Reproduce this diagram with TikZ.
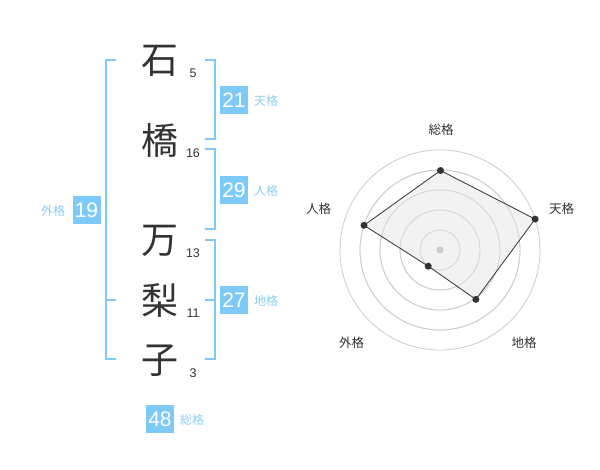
\documentclass[tikz,border=0pt]{standalone}
\usepackage{fontspec}
\setmainfont{Liberation Sans}
\newfontfamily\cjk{Noto Sans CJK JP}
\definecolor{ink}{HTML}{333333}
\definecolor{bbox}{HTML}{7DCAF8}
\definecolor{blab}{HTML}{8DCFF5}
\definecolor{bline}{HTML}{80C8F8}
\definecolor{ring}{HTML}{CCCCCC}
\definecolor{area}{HTML}{F0F0F0}
\begin{document}
\begin{tikzpicture}[x=1pt,y=-1pt,
  kanji/.style={inner sep=0pt,text=ink,font=\cjk\fontsize{37}{37}\selectfont},
  strokes/.style={inner sep=0pt,text=ink,font=\fontsize{12.5}{13}\selectfont},
  numbox/.style={fill=bbox,text=white,minimum width=28pt,minimum height=28pt,inner sep=0pt,font=\fontsize{21}{21}\selectfont},
  boxlab/.style={inner sep=0pt,text=blab,font=\cjk\fontsize{12}{12}\selectfont},
  brk/.style={draw=bline,line width=2pt},
  ringst/.style={draw=ring,line width=0.8pt},
  dot/.style={circle,fill=ink,inner sep=0pt,minimum size=7pt},
  axlab/.style={inner sep=0pt,text=ink,font=\cjk\fontsize{12.5}{13}\selectfont}]
\useasboundingbox (0,0) rectangle (600,470);
\fill[white] (0,0) rectangle (600,470);
% characters
\node[kanji] (c1) at (160,61) {石};
\node[kanji] (c2) at (160,140) {橋};
\node[kanji] (c3) at (160,241) {万};
\node[kanji] (c4) at (160,300) {梨};
\node[kanji] (c5) at (160,361) {子};
\node[strokes] (s1) at (193,73) {5};
\node[strokes] (s2) at (193,153) {16};
\node[strokes] (s3) at (193,253) {13};
\node[strokes] (s4) at (193,313) {11};
\node[strokes] (s5) at (193,373) {3};
% brackets
\draw[brk] (116,60) -- (105.5,60) -- (105.5,359.5) -- (116,359.5);
\draw[brk] (105.5,300) -- (116,300);
\draw[brk] (205,60) -- (214.5,60) -- (214.5,139.5) -- (205,139.5);
\draw[brk] (205,149.5) -- (214.5,149.5) -- (214.5,229.5) -- (205,229.5);
\draw[brk] (205,240) -- (214.5,240) -- (214.5,359.5) -- (205,359.5);
\draw[brk] (205,300) -- (214.5,300);
% boxes
\node[numbox] (ten) at (234,100) {21};
\node[boxlab] (tenl) at (266,101) {天格};
\node[numbox] (jin) at (234,190) {29};
\node[boxlab] (jinl) at (266,191) {人格};
\node[numbox] (chi) at (234,300) {27};
\node[boxlab] (chil) at (266,301) {地格};
\node[numbox] (gai) at (86.5,210) {19};
\node[boxlab] (gail) at (53,211) {外格};
\node[numbox] (sou) at (160,419) {48};
\node[boxlab] (soul) at (192,420) {総格};
% radar
\coordinate (ctr) at (440,250);
\foreach \r in {20,40,60,80,100} \draw[ringst] (ctr) circle[radius=\r];
\coordinate (pS) at (440.5,170.5);
\coordinate (pT) at (535.1,219.1);
\coordinate (pC) at (475.9,299.4);
\coordinate (pG) at (428.2,266.2);
\coordinate (pJ) at (364,225.3);
\fill[area,fill opacity=0.85] (pS) -- (pT) -- (pC) -- (pG) -- (pJ) -- cycle;
\foreach \r in {20,40,60,80} \draw[ring,line width=0.8pt,opacity=0.7] (ctr) circle[radius=\r];
\draw[ink,line width=0.8pt] (pS) -- (pT) -- (pC) -- (pG) -- (pJ) -- cycle;
\node[circle,fill=ring,inner sep=0pt,minimum size=7pt] (cd) at (ctr) {};
\foreach \p in {pS,pT,pC,pG,pJ} \node[dot] (d\p) at (\p) {};
\node[axlab] (lS) at (441,130) {総格};
\node[axlab] (lT) at (561.5,208.5) {天格};
\node[axlab] (lJ) at (318.5,208.5) {人格};
\node[axlab] (lG) at (351.5,342.5) {外格};
\node[axlab] (lC) at (524,342.5) {地格};
\end{tikzpicture}
\end{document}
